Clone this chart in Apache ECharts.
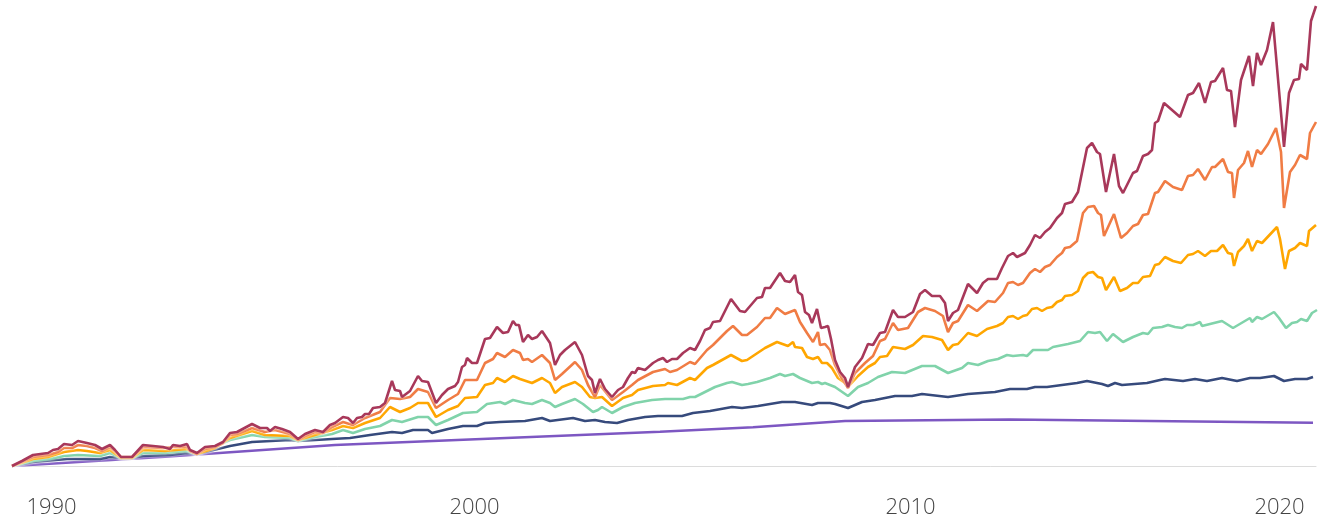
<!DOCTYPE html>
<html>
<head>
<meta charset="utf-8">
<title>Growth chart</title>
<script src="https://cdn.jsdelivr.net/npm/echarts@6/dist/echarts.min.js"></script>
<style>
  html, body { margin: 0; padding: 0; background: #fff; }
  #chart { width: 1328px; height: 521px; }
</style>
</head>
<body>
<div id="chart"></div>
<script>
// x = period step along the axis, y = cumulative growth
const yearLabels = ['1990', '2000', '2010', '2020'];
const yearLabelAt = [3.95, 46.25, 89.85, 126.75];

const mix100 = [
  [0,0],[1,0.5],[2.1,1.1],[3.6,1.3],[4.1,1.6],[4.6,1.7],[5.2,2.2],[6,2.1],[6.6,2.5],[7.5,2.3],
  [8.3,2.1],[9,1.7],[9.8,2.1],[10.3,1.6],[10.9,0.9],[12,0.9],[13.1,2.1],[15.1,1.9],[15.8,1.7],[16.1,2.1],
  [16.8,2],[17.5,2.2],[17.8,1.6],[18.5,1.3],[19.3,1.9],[20.3,2],[21.1,2.4],[21.8,3.3],[22.5,3.4],[24,4.2],
  [24.8,3.8],[25.5,3.8],[25.8,3.5],[26.3,3.9],[27,3.7],[27.8,3.4],[28.6,2.7],[29.3,3.2],[30.3,3.6],[31.1,3.4],
  [31.8,4.1],[32.3,4.3],[33.1,4.9],[33.6,4.8],[34.1,4.3],[34.5,4.8],[35,4.9],[35.3,5.2],[35.7,5.2],[36.1,5.8],
  [36.8,5.9],[37.3,6.3],[38,8.5],[38.3,7.6],[38.8,7.5],[39,6.9],[39.8,7.5],[40.6,9],[41,8.5],[41.6,8.4],
  [42.4,6.3],[43,7.1],[43.6,7.7],[44.3,8],[44.6,8.4],[45,9.9],[45.3,10.1],[45.5,10.8],[46,10.3],[46.5,10.3],
  [47.3,12.7],[47.8,12.8],[48.5,13.9],[49.1,13.3],[49.6,13.4],[50.1,14.5],[50.4,14.1],[50.7,14.1],[51.1,12.4],[51.6,13.1],
  [52,12.7],[52.5,12.9],[53,13.5],[53.8,12.3],[54.3,10.1],[54.8,11.1],[55.3,11.6],[56.3,12.4],[57,11.1],[57.6,9],
  [58,8.6],[58.3,7.3],[58.8,8.7],[59.3,7.7],[60,6.9],[60.6,7.6],[61.1,7.9],[61.6,8.8],[62,9.4],[62.3,9.3],
  [62.6,9.8],[63.3,9.6],[64.1,10.3],[64.6,10.6],[65.1,10.8],[65.5,10.4],[66,10.7],[66.5,10.7],[67.1,11.3],[67.8,11.8],
  [68.3,11.6],[68.8,12.5],[69.3,13.6],[69.8,13.8],[70.1,14.4],[70.8,14.5],[71.9,16.7],[72.8,15.5],[73.3,15.4],[74.5,16.8],
  [75,16.9],[75.3,17.8],[75.8,17.8],[76.8,19.3],[77.3,18.5],[77.8,18.4],[78.3,19.1],[78.6,17.4],[79,17.1],[79.3,15.4],
  [79.7,15.1],[80,14.3],[80.5,15.7],[80.9,13.8],[81.3,13.9],[81.6,14],[81.9,12.7],[82.3,10.6],[82.8,9.4],[83.3,8.8],
  [83.6,7.9],[84.3,9.9],[85,10.8],[85.6,12.2],[86.1,12.1],[86.8,13.3],[87.3,13.4],[88.1,15.6],[88.6,14.9],[89.3,14.9],
  [90.1,15.4],[90.8,17.2],[91.3,17.6],[92,17],[92.8,17],[93.3,16.3],[93.6,14.5],[94.1,15.3],[94.6,15.6],[95.6,18.2],
  [96.5,17.3],[97.1,18.3],[97.6,18.7],[98.5,18.7],[99,19.8],[99.6,21],[100.1,21.3],[100.5,20.9],[101.3,21.3],[101.8,22.1],
  [102.3,23.1],[102.8,22.8],[103.3,23.4],[103.8,23.8],[104.5,24.8],[105,25.3],[105.3,26.2],[106,26.4],[106.6,27.4],[107.5,31.8],
  [108,32.3],[108.5,31.4],[108.8,31.2],[109.4,27.4],[110.2,31.2],[110.7,28],[111.1,27.3],[112.1,29.3],[112.5,29.5],[113.1,31],
  [113.6,31.2],[114,31.6],[114.3,34.3],[114.6,34.5],[115.2,36.3],[116,35.6],[116.8,34.9],[117.6,37.1],[118.1,37.3],[118.7,38.3],
  [119.3,36.3],[119.9,38.4],[120.3,38.5],[121.1,39.8],[121.5,37.6],[121.9,37.5],[122.3,33.9],[122.9,38.6],[123.7,41],[124.1,38],
  [124.5,41.3],[124.9,40.1],[125.5,41.6],[126.1,44.4],[127.2,31.9],[127.7,37.3],[128.2,38.6],[128.7,38.7],[128.9,40.2],[129.5,39.6],
  [129.9,44.5],[130.4,46]
];

const mix80 = [
  [0,0],[2.1,0.9],[3.6,1.1],[4.6,1.4],[5.2,1.8],[6,1.8],[6.6,2.1],[7.5,2],[8.3,1.8],[9,1.5],
  [9.8,1.9],[10.3,1.5],[10.9,0.9],[12,0.9],[13.1,1.9],[15.1,1.8],[16.1,1.9],[17.5,1.9],[17.8,1.5],[18.5,1.2],
  [19.3,1.7],[20.3,1.9],[21.1,2.3],[21.8,3.1],[22.5,3.2],[24,3.8],[25.3,3.4],[26.3,3.6],[27.8,3.2],[28.6,2.6],
  [29.3,3],[30.3,3.4],[31.1,3.3],[32,3.9],[33.1,4.4],[34.1,4.1],[35.3,4.8],[36.8,5.4],[37.8,6.8],[38.8,6.7],
  [39.8,6.9],[40.6,7.7],[41.6,7.4],[42.4,5.8],[43.6,6.6],[44.6,7.2],[45.3,8.6],[46.5,8.6],[47.3,10.3],[48.1,10.7],
  [48.5,11.3],[49.3,10.9],[50.1,11.6],[50.8,11.3],[51.1,10.6],[51.6,10.7],[52,10.4],[53,11.1],[53.8,10.3],[54.3,8.6],
  [55,9.2],[56.3,10.4],[57,9.6],[57.6,8.1],[58.3,6.9],[58.8,8.1],[60,6.6],[61.1,7.4],[62,8.1],[62.6,8.6],
  [64.1,9.4],[65.3,9.7],[65.8,9.4],[66.5,9.6],[67.8,10.4],[68.3,10.2],[69.5,11.6],[70.1,12.1],[71.5,13.5],[72.1,14],
  [73,13.1],[73.5,13.1],[74.5,13.9],[75.3,14.8],[75.8,14.8],[76.5,15.8],[77.3,15.2],[78.3,15.6],[78.8,14.4],[79.5,13.3],
  [80.1,12.4],[80.6,13.4],[80.8,12.1],[81.3,12.2],[81.8,11.6],[82.3,10.1],[82.8,9.1],[83.6,7.8],[84.3,9.3],[85.3,10.3],
  [86.1,11],[86.8,12.5],[87.3,12.7],[88.1,14.3],[88.6,13.6],[89.6,13.8],[90.6,15.4],[91.3,15.8],[92.3,15.5],[93.1,15],
  [93.6,13.4],[94.1,14.3],[94.6,14.5],[95.6,16.1],[96.5,15.5],[97.6,16.5],[98.3,16.4],[99.1,17.3],[99.6,18.3],[100.1,18.4],
  [100.6,18.1],[101.1,18.3],[101.8,19.3],[102.3,19.7],[102.8,19.4],[103.3,19.9],[103.8,20.1],[104.5,20.9],[105,21.3],[105.3,21.8],
  [105.8,21.9],[106.5,22.5],[107.1,25.3],[107.6,25.9],[108.2,26],[108.6,25.3],[108.9,25.1],[109.2,23],[110.2,25.2],[110.9,22.8],
  [111.5,23.3],[112.1,24],[112.6,24.2],[113.1,25.1],[113.6,25.2],[114.3,27.3],[114.6,27.4],[115.3,28.5],[116.1,27.9],[117,27.6],
  [117.6,29],[118.1,29.1],[118.6,29.7],[119.3,28.6],[120,29.9],[120.3,29.9],[121.1,30.7],[121.6,29.4],[122,29.3],[122.2,26.8],
  [122.6,29.6],[123.2,30.3],[123.6,31.5],[124,29.9],[124.5,31.6],[124.9,31.2],[125.6,32.2],[126.4,33.8],[126.9,31.4],[127.2,25.8],
  [127.8,29.4],[128.3,30.1],[128.8,31.1],[129.5,30.7],[129.8,33.3],[130.4,34.4]
];

const mix60 = [
  [0,0],[2.1,0.7],[3.6,0.9],[5.2,1.4],[6.6,1.6],[7.5,1.5],[8.8,1.3],[9.8,1.6],[10.9,0.8],[12,0.8],
  [13.1,1.6],[15.3,1.5],[17.5,1.7],[18.5,1.2],[20.3,1.8],[21.8,2.8],[24,3.5],[25.3,3.1],[27.8,3],[28.6,2.6],
  [30.3,3.1],[32,3.6],[33.1,4],[34.1,3.8],[35.3,4.3],[36.8,4.8],[37.8,5.9],[38.8,5.4],[39.8,5.8],[40.6,6.3],
  [41.6,6.3],[42.4,4.9],[43.6,5.6],[44.6,6],[45.3,6.8],[46.5,6.9],[47.3,8.1],[48.1,8.3],[48.5,8.8],[49.3,8.4],
  [50.1,9],[50.8,8.7],[52,8.3],[53,8.8],[53.8,8.3],[54.3,7.3],[55,7.9],[56.3,8.4],[57,7.9],[57.8,6.9],
  [58.3,6.8],[59,6.9],[60,6],[61.1,6.8],[62,7.1],[62.6,7.6],[64.1,8],[65.3,8.1],[65.6,8.3],[66.5,8.1],
  [67.8,8.8],[68.3,8.6],[69.5,9.8],[70.1,10.1],[71.9,11.1],[73,10.5],[73.5,10.6],[75.3,11.8],[76.5,12.4],[77.6,12],
  [78.1,12.4],[78.3,11.9],[79,11.8],[79.5,10.9],[80.1,10.7],[80.6,10.9],[81,10.3],[81.5,10.3],[82,9.8],[82.6,8.8],
  [83.3,8.3],[83.6,7.9],[84.6,9],[85.6,9.9],[86.3,10.3],[86.8,10.9],[87.5,11],[88.1,11.9],[89.3,11.7],[90.1,12.1],
  [91.1,13],[92,12.9],[93,12.6],[93.6,11.6],[94.1,12.1],[94.6,12.2],[95.6,13.3],[96.5,13],[97.5,13.7],[98.5,14],
  [99.1,14.3],[99.6,14.9],[100.1,15],[100.6,14.7],[101.1,15],[101.5,15.1],[102,15.7],[102.5,15.8],[103,15.5],[103.5,15.8],
  [104,15.9],[104.5,16.4],[105,16.6],[105.3,17],[106,17.1],[106.6,17.5],[107.1,18.8],[107.6,19.3],[108.1,19.4],[108.6,18.9],
  [109,18.8],[109.4,17.6],[110.2,18.9],[110.8,17.5],[111.5,17.8],[112.1,18.3],[112.6,18.3],[113.1,18.9],[113.8,19],[114.3,20.1],
  [114.7,20.2],[115.3,20.9],[116.1,20.5],[116.9,20.3],[117.6,21.1],[118.1,21.2],[118.6,21.5],[119.3,21],[119.9,21.5],[120.5,21.5],
  [121.1,22.1],[121.6,21.3],[122,21.2],[122.2,20],[122.6,21.4],[123.2,22],[123.6,22.7],[124,21.5],[124.5,22.5],[125,22.3],
  [126.5,23.9],[126.8,22.7],[127.3,19.7],[127.7,21.5],[128.3,21.8],[128.8,22.3],[129.5,22],[129.7,23.5],[130.4,24.1]
];

const mix40 = [
  [0,0],[2.1,0.5],[3.8,0.7],[5.2,1],[6.6,1.1],[8.8,1],[9.8,1.3],[10.9,0.8],[12,0.8],[13.1,1.3],
  [15.3,1.3],[17.5,1.5],[18.5,1.2],[21.8,2.6],[24,3.1],[25.3,2.9],[27.8,2.8],[28.6,2.5],[30.3,2.9],[32,3.2],
  [33.1,3.6],[34.1,3.3],[35.3,3.7],[36.8,4],[38,4.6],[39,4.4],[40.6,4.9],[41.6,4.9],[42.4,4.1],[43.6,4.6],
  [45.1,5.3],[46.5,5.4],[47.5,6.2],[48.8,6.4],[49.3,6.2],[50.1,6.6],[51.3,6.3],[52,6.2],[53,6.6],[53.8,6.3],
  [54.3,5.9],[55,6.2],[56.3,6.7],[57.1,6.2],[58.1,5.4],[58.6,5.6],[59,5.9],[60,5.3],[61.1,5.9],[62.3,6.3],
  [64,6.6],[65.3,6.7],[66.1,6.7],[67.1,6.7],[67.8,6.9],[68.3,6.9],[69.1,7.3],[70.3,7.9],[71.5,8.3],[72,8.4],
  [73,8.1],[73.6,8.2],[74.5,8.4],[75.8,8.8],[76.8,9.2],[77.3,9],[78.1,9.2],[78.8,8.8],[80,8.3],[80.6,8.4],
  [81,8.2],[81.3,8.3],[82.3,7.9],[83.6,7],[84.6,7.9],[85.6,8.3],[86.6,8.9],[88,9.4],[89.3,9.3],[91,10],
  [92.3,10],[93.6,9.3],[95,9.8],[95.6,10.3],[96.6,10.1],[97.6,10.5],[98.6,10.7],[99.5,11.1],[100.1,11],[101.1,11.1],
  [101.5,11],[102.1,11.6],[103.6,11.6],[104.1,11.9],[105.6,12.2],[106.8,12.5],[107.6,13.4],[108.3,13.3],[108.8,13.4],[109.5,12.5],
  [110.1,13.2],[111.1,12.4],[112.1,12.9],[113.1,13.3],[113.6,13.2],[114.1,13.8],[115,13.9],[115.6,14.1],[116.3,13.9],[117,13.8],
  [117.5,14.1],[118.1,14.1],[118.8,14.4],[119,14],[121,14.5],[122.1,13.8],[123.8,14.8],[124,14.4],[124.5,14.9],[125,14.7],
  [126.2,15.4],[126.7,14.8],[127.4,13.8],[128,14.3],[128.5,14.4],[128.9,14.7],[129.5,14.5],[130,15.3],[130.5,15.6]
];

const mix20 = [
  [0,0],[2.1,0.4],[5.5,0.7],[8.8,0.7],[9.8,0.9],[10.9,0.8],[12,0.8],[13.1,1],[15.8,1.1],[17.5,1.3],
  [18.5,1.2],[21.8,2],[24,2.4],[27.8,2.6],[28.6,2.5],[32,2.7],[33.8,2.8],[35.8,3.1],[38,3.4],[39,3.3],
  [40.1,3.6],[41.6,3.6],[42,3.3],[43.6,3.7],[45.1,4],[46.5,4],[47.3,4.3],[48.8,4.4],[51.3,4.5],[53,4.8],
  [53.8,4.5],[56.1,4.8],[57.3,4.5],[58.3,4.6],[59.3,4.4],[60.5,4.3],[61.6,4.6],[63.3,4.9],[64.6,5],[67,5],
  [68.1,5.3],[69.8,5.5],[72,5.9],[73,5.8],[74.6,6],[77,6.4],[78.3,6.4],[80,6.1],[80.6,6.3],[81.8,6.3],
  [82.3,6.2],[83.6,5.8],[85,6.4],[86.3,6.6],[88.3,7],[90,7],[91,7.2],[93.6,6.9],[95.6,7.2],[98.3,7.4],
  [99.8,7.7],[101.5,7.7],[102.3,7.9],[103.5,7.9],[106.5,8.3],[107.5,8.5],[109,8.2],[109.6,8],[110.3,8.3],[111,8.1],
  [113.5,8.3],[114.8,8.6],[115.3,8.7],[117.1,8.5],[118.3,8.7],[119.5,8.5],[121,8.8],[122.5,8.5],[123.8,8.8],[124.8,8.8],
  [126.2,9],[127.2,8.5],[128.3,8.7],[129.5,8.7],[130.1,8.9]
];

const cash = [
  [0,0],[15.3,0.93],[32.3,2.1],[48.8,2.77],[64.8,3.43],[74.1,3.87],[83.3,4.5],[99.8,4.65],[130.1,4.33]
];

const lineNames = ['Cash', '20%', '40%', '60%', '80%', '100%'];
const lineData = [cash, mix20, mix40, mix60, mix80, mix100];
const lineColors = ['#7d57c2', '#364a7c', '#80d3aa', '#ffa600', '#f07c44', '#a8385a'];

let chart = echarts.init(document.getElementById('chart'), null, { renderer: 'canvas' });

let option = {
  animation: false,
  backgroundColor: '#fff',
  grid: { left: 12, right: 12, top: 0, bottom: 55 },
  xAxis: {
    type: 'value',
    min: 0,
    max: 130.4,
    axisLine: { show: true, lineStyle: { color: '#dcdcdc', width: 1 } },
    axisTick: { show: false },
    splitLine: { show: false },
    axisLabel: {
      customValues: yearLabelAt,
      formatter: function (v) {
        let i = yearLabelAt.indexOf(v);
        return i >= 0 ? yearLabels[i] : '';
      },
      margin: 31,
      fontSize: 22,
      color: '#444',
      fontFamily: 'Open Sans',
      fontWeight: 300
    }
  },
  yAxis: {
    type: 'value',
    min: 0,
    max: 46.6,
    show: false,
    splitLine: { show: false }
  },
  series: lineData.map(function (d, i) {
    return {
      name: lineNames[i],
      type: 'line',
      data: d,
      showSymbol: false,
      symbol: 'none',
      clip: false,
      lineStyle: {
        color: lineColors[i],
        width: 2.6,
        shadowColor: 'rgba(255,255,255,0.9)',
        shadowBlur: 3
      },
      z: 2 + i
    };
  })
};

chart.setOption(option);
</script>
</body>
</html>
